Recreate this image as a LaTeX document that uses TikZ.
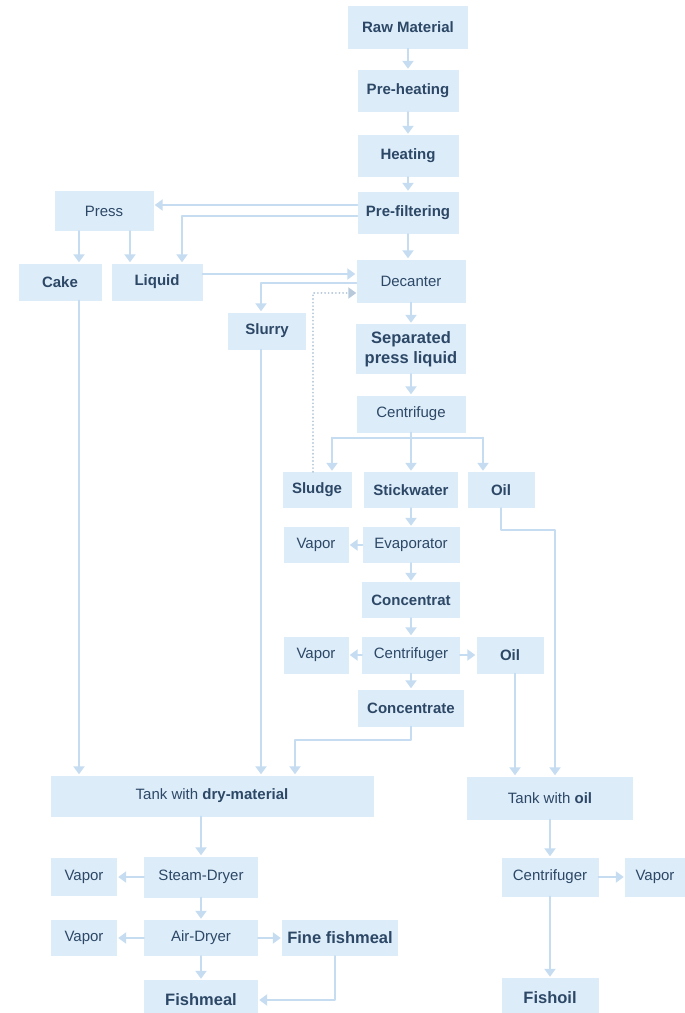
\documentclass[tikz,border=0pt]{standalone}
\usepackage{fontspec}
\setmainfont{Liberation Sans}
\usepackage{xcolor}
\usetikzlibrary{arrows.meta,calc,positioning}
\definecolor{mealfill}{RGB}{221,236,249}
\definecolor{mealline}{RGB}{197,220,241}
\definecolor{mealtext}{RGB}{44,72,102}
\tikzset{
  every picture/.append style={line cap=round,line join=round},
  meal box/.style={fill=mealfill,text=mealtext,inner sep=0pt,minimum height=37pt,
    align=center,font=\fontsize{15}{18}\selectfont},
  meal main/.style={meal box,font=\fontsize{15}{18}\selectfont\bfseries},
  meal big/.style={meal box,font=\fontsize{16.5}{19.5}\selectfont\bfseries},
  meal line/.style={mealline,line width=2pt},
  meal arrow/.style={meal line,-{Triangle[length=8pt,width=11pt]},shorten >=1pt},
  meal dotted/.style={mealline!80!gray,line width=2pt,dash pattern=on 0.1pt off 3.5pt,
    -{Triangle[length=8pt,width=11pt,line cap=butt]}}
}

\begin{document}
\begin{tikzpicture}[x=1pt,y=-1pt]
  \useasboundingbox (0,0) rectangle (685,1013);
  % main line
  \node[meal main,minimum width=120pt,minimum height=43pt] (raw) at (408,27) {Raw Material};
  \node[meal main,minimum width=101pt,minimum height=42pt] (preheat) at (408,91) {Pre-heating};
  \node[meal main,minimum width=101pt,minimum height=42pt] (heat) at (408,156) {Heating};
  \node[meal main,minimum width=101pt,minimum height=42pt] (prefilt) at (408,213) {Pre-filtering};
  \node[meal box,minimum width=99pt,minimum height=40pt] (press) at (104,211) {Press};
  \node[meal main,minimum width=83pt] (cake) at (60,282) {Cake};
  \node[meal main,minimum width=91pt] (liquid) at (157,282) {Liquid};
  \node[meal box,minimum width=109pt,minimum height=43pt] (decanter) at (411,281) {Decanter};
  \node[meal main,minimum width=78pt] (slurry) at (267,331) {Slurry};
  \node[meal big,minimum width=110pt,minimum height=50pt] (sep) at (411,349) {Separated\\press liquid};
  \node[meal box,minimum width=109pt] (centrifuge) at (411,414) {Centrifuge};
  \node[meal main,minimum width=69pt,minimum height=36pt] (sludge) at (317,490) {Sludge};
  \node[meal main,minimum width=94pt,minimum height=36pt] (stickwater) at (411,490) {Stickwater};
  \node[meal main,minimum width=67pt,minimum height=36pt] (oil1) at (501,490) {Oil};
  \node[meal box,minimum width=65pt,minimum height=36pt] (vapor1) at (316,545) {Vapor};
  \node[meal box,minimum width=97pt,minimum height=36pt] (evaporator) at (411,545) {Evaporator};
  \node[meal main,minimum width=98pt,minimum height=36pt] (concentrat) at (411,600) {Concentrat};
  \node[meal box,minimum width=65pt] (vapor2) at (316,655) {Vapor};
  \node[meal box,minimum width=98pt] (centrifuger) at (411,655) {Centrifuger};
  \node[meal main,minimum width=67pt] (oil2) at (510,655) {Oil};
  \node[meal main,minimum width=106pt] (concentrate) at (411,708) {Concentrate};
  % tanks
  \node[meal box,minimum width=323pt,minimum height=41pt] (tankdry) at (212,796) {Tank with \textbf{dry-material}};
  \node[meal box,minimum width=166pt,minimum height=43pt] (tankoil) at (550,798) {Tank with \textbf{oil}};
  % drying
  \node[meal box,minimum width=114pt,minimum height=41pt] (steam) at (201,877) {Steam-Dryer};
  \node[meal box,minimum width=66pt,minimum height=38pt] (vapor3) at (84,877) {Vapor};
  \node[meal box,minimum width=114pt,minimum height=36pt] (air) at (201,938) {Air-Dryer};
  \node[meal box,minimum width=66pt,minimum height=36pt] (vapor4) at (84,938) {Vapor};
  \node[meal big,minimum width=116pt,minimum height=36pt] (fine) at (340,938) {Fine fishmeal};
  \node[meal big,minimum width=114pt,minimum height=40pt] (fishmeal) at (201,1000) {Fishmeal};
  % oil side
  \node[meal box,minimum width=97pt,minimum height=39pt] (centoil) at (550,877) {Centrifuger};
  \node[meal box,minimum width=60pt,minimum height=39pt] (vapor5) at (655,877) {Vapor};
  \node[meal big,minimum width=97pt,minimum height=40pt] (fishoil) at (550,998) {Fishoil};

  % straight arrows
  \foreach \a/\b in {raw/preheat,preheat/heat,heat/prefilt,decanter/sep,sep/centrifuge,
      stickwater/evaporator,evaporator/vapor1,evaporator/concentrat,concentrat/centrifuger,
      centrifuger/vapor2,centrifuger/oil2,centrifuger/concentrate,steam/vapor3,steam/air,
      air/vapor4,air/fine,air/fishmeal,tankoil/centoil,centoil/vapor5,centoil/fishoil}
    \draw[meal arrow] (\a) -- (\b);
  \draw[meal arrow] (prefilt.south) -- (prefilt.south |- decanter.north);
  \draw[meal arrow] ([yshift=8pt]prefilt.west) -- ([yshift=8pt]prefilt.west -| press.east);
  \draw[meal arrow] ([yshift=-3pt]prefilt.west) -| ([xshift=25pt]liquid.north);
  \draw[meal arrow] ([xshift=-25pt]press.south) -- ([xshift=-25pt]press.south |- cake.north);
  \draw[meal arrow] ([xshift=26pt]press.south) -- ([xshift=26pt]press.south |- liquid.north);
  \draw[meal arrow] ([yshift=8pt]liquid.east) -- ([yshift=8pt]liquid.east -| decanter.west);
  \draw[meal arrow] ([yshift=-2pt]decanter.west) -| ([xshift=-6pt]slurry.north);
  \draw[meal dotted] ([xshift=-4pt]sludge.north) |- ([yshift=-12pt]decanter.west);
  % centrifuge branches
  \coordinate (cbranch) at ($(centrifuge.south)+(0,5)$);
  \draw[meal line] (centrifuge.south) -- (cbranch);
  \draw[meal line] ([xshift=15pt]sludge.north |- cbranch) -- ([xshift=-18pt]oil1.north |- cbranch);
  \foreach \n/\dx in {sludge/15,stickwater/0,oil1/-18}
    \draw[meal arrow] ([xshift=\dx pt]\n.north |- cbranch) -- ([xshift=\dx pt]\n.north);
  % into the tanks
  \draw[meal arrow] (oil1.south) -- ++(0,22) -| ([xshift=5pt]tankoil.north);
  \draw[meal arrow] ([xshift=5pt]oil2.south) -- ([xshift=5pt]oil2.south |- tankoil.north);
  \draw[meal arrow] (concentrate.south) -- ++(0,13) -| ([xshift=83pt]tankdry.north);
  \draw[meal arrow] ([xshift=-6pt]slurry.south) -- ([xshift=-6pt]slurry.south |- tankdry.north);
  \draw[meal arrow] ([xshift=19pt]cake.south) -- ([xshift=19pt]cake.south |- tankdry.north);
  \draw[meal arrow] (steam.north |- tankdry.south) -- (steam.north);
  \draw[meal arrow] ([xshift=-5pt]fine.south) |- (fishmeal.east);
\end{tikzpicture}
\end{document}
